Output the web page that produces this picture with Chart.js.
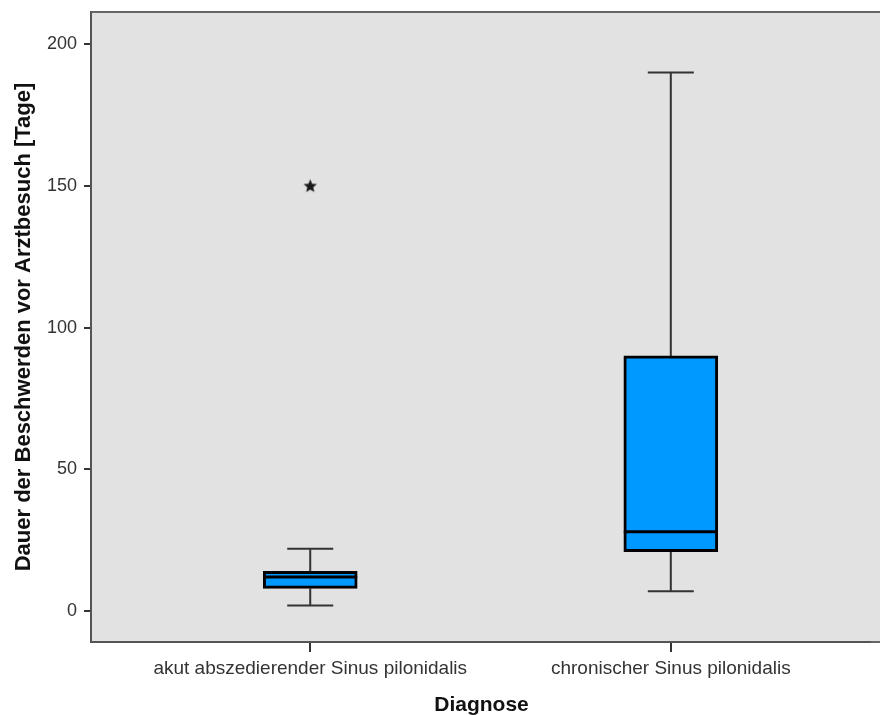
<!DOCTYPE html>
<html>
<head>
<meta charset="utf-8">
<script src="https://cdn.jsdelivr.net/npm/chart.js@4.4.1/dist/chart.umd.min.js"></script>
<style>
  html, body { margin: 0; padding: 0; background: #fff; overflow: hidden; }
  #wrap { width: 880px; height: 715px; }
</style>
</head>
<body>
<div id="wrap"><canvas id="boxChart" width="880" height="715"></canvas></div>
<script>
// categories and box statistics
const categories = ['akut abszedierender Sinus pilonidalis', 'chronischer Sinus pilonidalis'];
const whiskerLow = [2, 7];
const q1 = [8, 21];
const median = [12, 28];
const q3 = [14, 90];
const whiskerHigh = [22, 190];
const outliers = [{ group: 1, value: 150 }];
const yTicks = [0, 50, 100, 150, 200];

// small filled star used for the extreme value marker
function makeStar(size, color) {
    const c = document.createElement('canvas');
    c.width = size; c.height = size;
    const g = c.getContext('2d');
    const cx = size / 2, cy = size / 2 + 0.5, outer = size / 2 - 0.5, inner = outer * 0.45;
    g.beginPath();
    for (let i = 0; i < 10; i++) {
        const r = i % 2 === 0 ? outer : inner;
        const a = -Math.PI / 2 + i * Math.PI / 5;
        g.lineTo(cx + r * Math.cos(a), cy + r * Math.sin(a));
    }
    g.closePath();
    g.fillStyle = color;
    g.fill();
    return c;
}

const boxParts = {
    id: 'boxParts',
    beforeDraw(chart) {
        const { ctx, chartArea: a } = chart;
        ctx.save();
        ctx.fillStyle = '#e2e2e2';
        ctx.fillRect(a.left, a.top, 880 - a.left, a.bottom - a.top);
        ctx.restore();
    },
    beforeDatasetsDraw(chart) {
        // whiskers
        const { ctx, scales: { x, y } } = chart;
        ctx.save();
        ctx.strokeStyle = '#333';
        ctx.lineWidth = 2;
        categories.forEach((_, i) => {
            const px = x.getPixelForValue(i + 1);
            const half = 23;
            ctx.beginPath();
            ctx.moveTo(px, y.getPixelForValue(q3[i]));
            ctx.lineTo(px, y.getPixelForValue(whiskerHigh[i]));
            ctx.moveTo(px, y.getPixelForValue(q1[i]));
            ctx.lineTo(px, y.getPixelForValue(whiskerLow[i]));
            ctx.moveTo(px - half, y.getPixelForValue(whiskerHigh[i]));
            ctx.lineTo(px + half, y.getPixelForValue(whiskerHigh[i]));
            ctx.moveTo(px - half, y.getPixelForValue(whiskerLow[i]));
            ctx.lineTo(px + half, y.getPixelForValue(whiskerLow[i]));
            ctx.stroke();
        });
        ctx.restore();
    },
    afterDatasetsDraw(chart) {
        const { ctx, chartArea: a, scales: { y } } = chart;
        const bars = chart.getDatasetMeta(0).data;
        ctx.save();
        // medians
        ctx.strokeStyle = '#000';
        ctx.lineWidth = 3;
        bars.forEach((bar, i) => {
            const py = y.getPixelForValue(median[i]);
            ctx.beginPath();
            ctx.moveTo(bar.x - bar.width / 2, py);
            ctx.lineTo(bar.x + bar.width / 2, py);
            ctx.stroke();
        });
        // top and bottom frame lines run out to the edge
        ctx.strokeStyle = '#666';
        ctx.lineWidth = 2;
        ctx.beginPath();
        ctx.moveTo(a.left, a.top);
        ctx.lineTo(880, a.top);
        ctx.moveTo(a.right - 1, a.bottom);
        ctx.lineTo(880, a.bottom);
        ctx.stroke();
        ctx.restore();
    }
};

Chart.defaults.font.family = "'Liberation Sans', Arial, sans-serif";
Chart.defaults.color = '#333';

new Chart(document.getElementById('boxChart').getContext('2d'), {
    type: 'bar',
    data: {
        datasets: [{
            label: 'Box',
            data: categories.map((_, i) => ({ x: i + 1, y: [q1[i], q3[i]] })),
            backgroundColor: '#0099ff',
            borderColor: '#000',
            borderWidth: 3,
            borderSkipped: false,
            barThickness: 94,
            grouped: false
        }, {
            type: 'scatter',
            label: 'Extremwerte',
            data: outliers.map(o => ({ x: o.group, y: o.value })),
            pointStyle: makeStar(15, '#1a1a1a'),
            pointRadius: 7
        }]
    },
    options: {
        responsive: false,
        animation: false,
        layout: { padding: { top: 12, right: 0, left: 0, bottom: 0 } },
        plugins: {
            legend: { display: false },
            tooltip: { enabled: false }
        },
        scales: {
            x: {
                type: 'linear',
                offset: false,
                min: 0.392,
                max: 2.558,
                afterBuildTicks: (s) => { s.ticks = categories.map((_, i) => ({ value: i + 1 })); },
                afterFit: (s) => { s.height = 73; s.paddingLeft = 0; s.paddingRight = 0; },
                ticks: {
                    callback: (v) => categories[v - 1],
                    font: { size: 19 },
                    color: '#333',
                    padding: 5,
                    maxRotation: 0,
                    autoSkip: false
                },
                grid: { offset: false, drawOnChartArea: false, drawTicks: true, tickLength: 10, color: '#333', lineWidth: 2 },
                border: { display: true, color: '#555', width: 2 },
                title: {
                    display: true,
                    text: 'Diagnose',
                    font: { size: 21, weight: 'bold' },
                    color: '#111',
                    padding: { top: 0, bottom: -3 }
                }
            },
            y: {
                min: -10.9,
                max: 211.3,
                afterBuildTicks: (s) => { s.ticks = yTicks.map(v => ({ value: v })); },
                afterFit: (s) => { s.width = 91; s.paddingTop = 0; s.paddingBottom = 0; },
                ticks: { font: { size: 18 }, color: '#333', padding: 7 },
                grid: { drawOnChartArea: false, drawTicks: true, tickLength: 7, color: '#333', lineWidth: 2 },
                border: { display: true, color: '#555', width: 2 },
                title: {
                    display: true,
                    text: 'Dauer der Beschwerden vor Arztbesuch [Tage]',
                    font: { size: 22, weight: 'bold' },
                    color: '#111',
                    padding: { top: 11, bottom: 0 }
                }
            }
        }
    },
    plugins: [boxParts]
});
</script>
</body>
</html>
